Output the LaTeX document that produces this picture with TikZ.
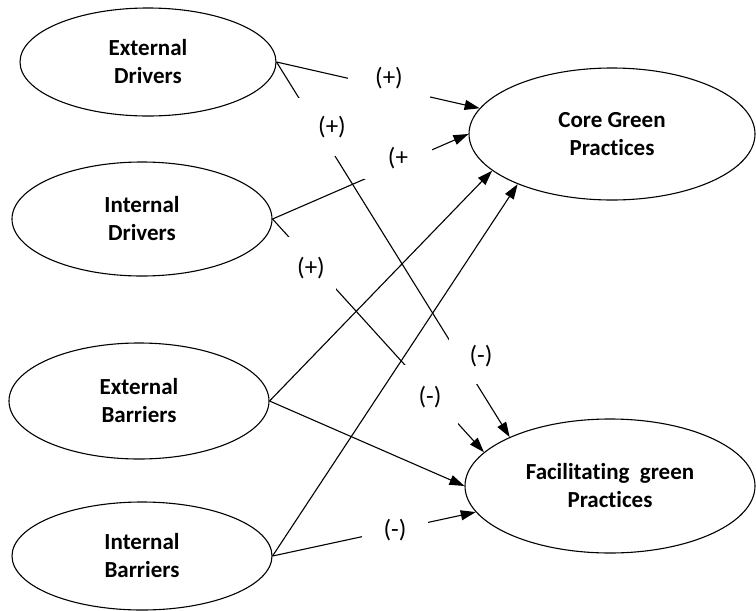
\documentclass[tikz,border=0pt]{standalone}
\usepackage{fontspec}
\setmainfont{Carlito}[Ligatures=NoCommon]
\usetikzlibrary{arrows.meta, shapes.geometric}

\begin{document}
\begin{tikzpicture}[x=1pt, y=-1pt,
    construct/.style={draw, ellipse, line width=1.1pt, align=center, font=\fontsize{23}{28}\selectfont\bfseries},
    sign/.style={fill=white, inner sep=0pt, font=\fontsize{25}{28}\selectfont},
    every edge/.append style={line width=1.1pt, -{Triangle[length=15pt, width=10pt]}}]
  \useasboundingbox (0,0) rectangle (756,611);

  % constructs
  \node[construct, minimum width=256pt, minimum height=108pt] (ed) at (148,62) {External\\Drivers};
  \node[construct, minimum width=260pt, minimum height=114pt] (id) at (142,219) {Internal\\Drivers};
  \node[construct, minimum width=260pt, minimum height=116pt] (eb) at (139,401) {External\\Barriers};
  \node[construct, minimum width=260pt, minimum height=108pt] (ib) at (142,556) {Internal\\Barriers};
  \node[construct, minimum width=286pt, minimum height=132pt] (cgp) at (612,134) {Core Green\\Practices};
  \node[construct, minimum width=290pt, minimum height=134pt] (fgp) at (610,486) {Facilitating~~green\\Practices};

  % paths
  \path (ed.east) edge (cgp.169)
        (ed.east) edge (fgp.154)
        (id.east) edge (cgp.180)
        (id.east) edge (fgp.165)
        (eb.east) edge (cgp.197)
        (eb.east) edge (fgp.180)
        (ib.east) edge (cgp.208)
        (ib.east) edge (fgp.191);

  % signs
  \node[sign, minimum width=82pt, minimum height=44pt] (p1) at (389,78) {(+)};
  \node[sign, minimum width=72pt, minimum height=58pt] (p2) at (332,127) {(+)};
  \node[sign, minimum width=68pt, minimum height=42pt] (p3) at (398,158) {(+};
  \node[sign, minimum width=50pt, minimum height=62pt] (p4) at (311,268) {(+)};
  \node[sign, minimum width=64pt, minimum height=56pt] (m1) at (481,356) {(-)};
  \node[sign, minimum width=56pt, minimum height=64pt] (m2) at (430,397) {(-)};
  \node[sign, minimum width=66pt, minimum height=40pt] (m3) at (395,530) {(-)};
\end{tikzpicture}
\end{document}
